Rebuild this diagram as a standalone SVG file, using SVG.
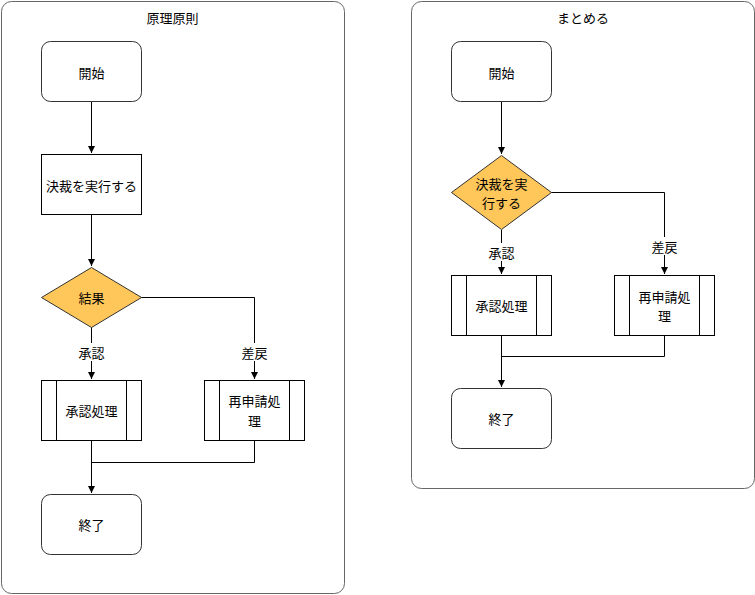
<svg xmlns="http://www.w3.org/2000/svg" width="755" height="595" viewBox="0 0 755 595">
<defs>
<style>
text{font-family:"Noto Sans CJK JP","Noto Sans",sans-serif;font-size:13px;fill:#000;text-anchor:middle;dominant-baseline:central}
.cont{fill:#fff;stroke:#666;stroke-width:1}
.term{fill:#fff;stroke:#333;stroke-width:1}
.box{fill:#fff;stroke:#000;stroke-width:1}
.dia{fill:#ffc65a;stroke:#333;stroke-width:1}
.edge{fill:none;stroke:#000;stroke-width:1}
.lbl{fill:#fff}
</style>
<marker id="arr" markerWidth="8" markerHeight="8" refX="7" refY="4" orient="auto" markerUnits="userSpaceOnUse">
<path d="M0,0.5 L7,4 L0,7.5 Z" fill="#000"/>
</marker>
</defs>
<rect width="755" height="595" fill="#fff"/>
<g id="container-left"><rect class="cont" x="1.5" y="1.5" width="343" height="592" rx="10"/><text x="172.5" y="17">原理原則</text></g>
<g id="container-right"><rect class="cont" x="411.5" y="1.5" width="343" height="487" rx="10"/><text x="583" y="17">まとめる</text></g>

<g id="edges">
<path class="edge" d="M91.5,101 V153" marker-end="url(#arr)"/>
<path class="edge" d="M91.5,214 V266" marker-end="url(#arr)"/>
<path class="edge" d="M91.5,327 V379" marker-end="url(#arr)"/>
<path class="edge" d="M141,297.5 H254.5 V379" marker-end="url(#arr)"/>
<path class="edge" d="M91.5,440 V493" marker-end="url(#arr)"/>
<path class="edge" d="M254.5,440 V462.5 H91.5"/>
<path class="edge" d="M501.5,101 V154" marker-end="url(#arr)"/>
<path class="edge" d="M501.5,230 V274" marker-end="url(#arr)"/>
<path class="edge" d="M551,192.5 H664.5 V274" marker-end="url(#arr)"/>
<path class="edge" d="M501.5,335 V387" marker-end="url(#arr)"/>
<path class="edge" d="M664.5,335 V356.5 H501.5"/>
<rect class="lbl" x="76" y="343" width="31" height="18"/><text x="91.5" y="352">承認</text>
<rect class="lbl" x="239" y="343" width="31" height="18"/><text x="254.5" y="352">差戻</text>
<rect class="lbl" x="486" y="243" width="31" height="18"/><text x="501.5" y="252">承認</text>
<rect class="lbl" x="649" y="237" width="31" height="18"/><text x="664.5" y="246">差戻</text>
</g>

<g id="start-left"><rect class="term" x="41.5" y="41.5" width="100" height="60" rx="9"/><text x="91.5" y="72">開始</text></g>
<g id="exec-left"><rect class="box" x="41.5" y="154.5" width="100" height="60"/><text x="91.5" y="185">決裁を実行する</text></g>
<g id="result-left"><path class="dia" d="M91.5,267.5 L141.5,297.5 L91.5,327.5 L41.5,297.5 Z"/><text x="91.5" y="297.5">結果</text></g>
<g id="approve-left"><rect class="box" x="41.5" y="380.5" width="100" height="60"/><path class="box" d="M56.5,380.5 V440.5 M126.5,380.5 V440.5"/><text x="91.5" y="410.5">承認処理</text></g>
<g id="reapply-left"><rect class="box" x="204.5" y="380.5" width="100" height="60"/><path class="box" d="M219.5,380.5 V440.5 M289.5,380.5 V440.5"/><text x="254.5" y="400.5">再申請処</text><text x="254.5" y="420.5">理</text></g>
<g id="end-left"><rect class="term" x="41.5" y="494.5" width="100" height="60" rx="9"/><text x="91.5" y="524.5">終了</text></g>

<g id="start-right"><rect class="term" x="451.5" y="41.5" width="100" height="60" rx="9"/><text x="501.5" y="72">開始</text></g>
<g id="exec-right"><path class="dia" d="M501.5,155.5 L551.5,192.5 L501.5,229.5 L451.5,192.5 Z"/><text x="501.5" y="183.5">決裁を実</text><text x="501.5" y="202">行する</text></g>
<g id="approve-right"><rect class="box" x="451.5" y="275.5" width="100" height="60"/><path class="box" d="M466.5,275.5 V335.5 M536.5,275.5 V335.5"/><text x="501.5" y="305.5">承認処理</text></g>
<g id="reapply-right"><rect class="box" x="614.5" y="275.5" width="100" height="60"/><path class="box" d="M629.5,275.5 V335.5 M699.5,275.5 V335.5"/><text x="664.5" y="296">再申請処</text><text x="664.5" y="315">理</text></g>
<g id="end-right"><rect class="term" x="451.5" y="388.5" width="100" height="60" rx="9"/><text x="501.5" y="418.5">終了</text></g>
</svg>
